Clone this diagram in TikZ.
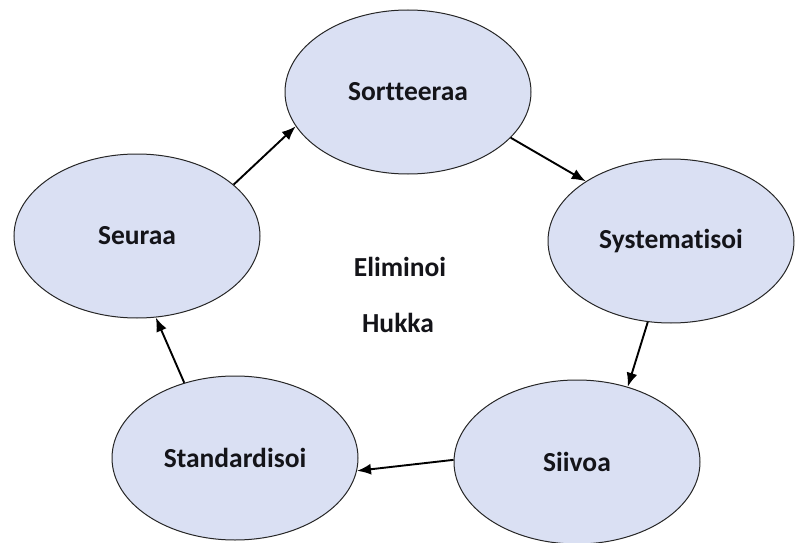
\documentclass[tikz,border=0pt]{standalone}
\usepackage{fontspec}
\setmainfont{Carlito}[Ligatures=NoCommon]
\usetikzlibrary{shapes.geometric,arrows.meta}
\definecolor{ellfill}{RGB}{218,224,243}
\definecolor{txt}{RGB}{20,20,25}
\tikzset{
  stage/.style={ellipse, draw=black!85, line width=1pt, fill=ellfill,
    minimum width=246pt, minimum height=164pt, inner sep=0pt,
    font=\fontsize{27.5}{32}\selectfont\bfseries, text=txt},
  label/.style={font=\fontsize{27.5}{32}\selectfont\bfseries, text=txt, inner sep=0pt},
  flow/.style={line width=1.9pt, black, -{Latex[length=14pt,width=11pt]}}
}
\begin{document}
\begin{tikzpicture}[x=1pt,y=-1pt]
\useasboundingbox (0,0) rectangle (796,543);
\node[stage] (sort) at (408,92) {Sortteeraa};
\node[stage] (syst) at (671,241) {Systematisoi};
\node[stage] (siiv) at (577,462) {Siivoa};
\node[stage] (stan) at (235,458) {Standardisoi};
\node[stage] (seur) at (137,236) {Seuraa};
\node[label] (elim) at (400,267) {Eliminoi};
\node[label] (hukk) at (398,323) {Hukka};
\draw[flow] (seur.28) -- (sort.197.5);
\draw[flow] (sort.-24) -- (syst.145);
\draw[flow] (syst.254) -- (siiv.56);
\draw[flow] (siiv.179) -- (stan.-6.4);
\draw[flow] (stan.124.7) -- (seur.283);
\end{tikzpicture}
\end{document}
